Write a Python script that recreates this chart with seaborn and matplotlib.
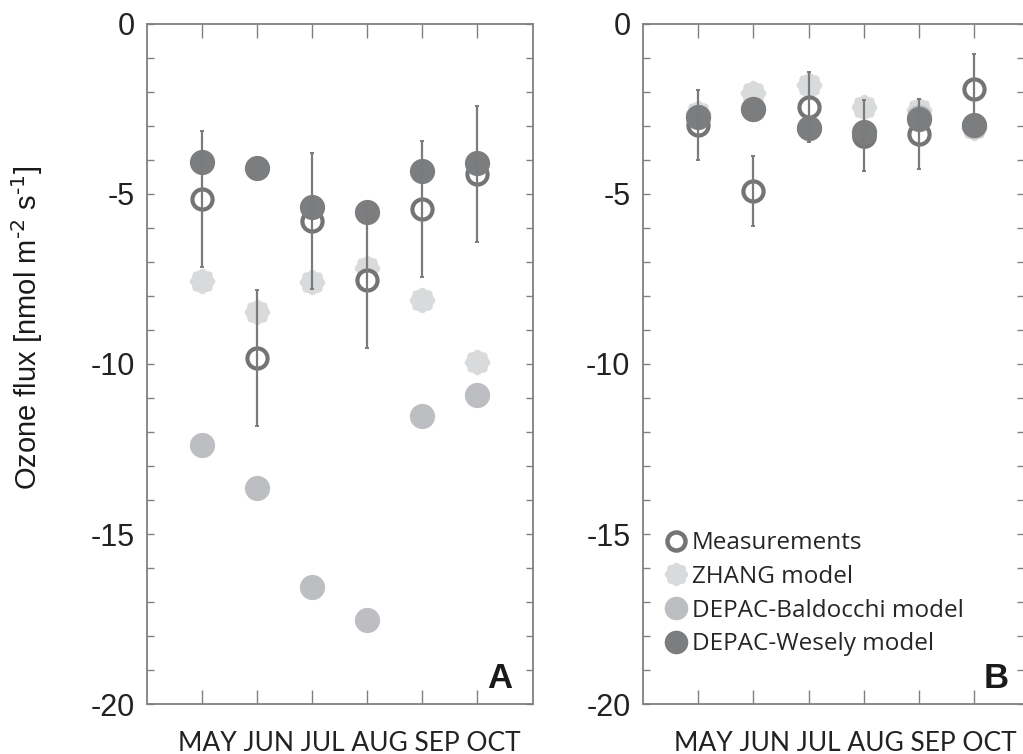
import matplotlib
matplotlib.use('Agg')
import matplotlib.pyplot as plt
from matplotlib.path import Path
from matplotlib.lines import Line2D
import seaborn as sns
import pandas as pd
import numpy as np

sns.set_theme(style="white")
plt.rcParams['font.family'] = ['Liberation Sans', 'DejaVu Sans']
plt.rcParams['mathtext.default'] = 'regular'

# month categories
months = ['MAY', 'JUN', 'JUL', 'AUG', 'SEP', 'OCT']

# Panel A values
meas_a = [-5.15, -9.82, -5.80, -7.53, -5.44, -4.41]
err_a = [2.0, 2.0, 2.0, 2.0, 2.0, 2.0]
zhang_a = [-7.56, -8.47, -7.59, -7.18, -8.12, -9.94]
bald_a = [-12.38, -13.65, -16.56, -17.53, -11.53, -10.91]
wesely_a = [-4.06, -4.24, -5.38, -5.53, -4.32, -4.09]

# Panel B values
meas_b = [-2.97, -4.92, -2.45, -3.28, -3.23, -1.91]
err_b = [1.03, 1.03, 1.03, 1.03, 1.03, 1.03]
zhang_b = [-2.63, -2.02, -1.80, -2.45, -2.53, -3.05]
bald_b = [-2.75, -2.50, -3.05, -3.30, -2.75, -3.00]
wesely_b = [-2.73, -2.50, -3.07, -3.17, -2.78, -2.97]

c_meas = '#727476'
c_zhang = '#d9dadb'
c_bald = '#bdbec1'
c_wes = '#7b7d7f'
c_err = '#7a7b7d'
c_spine = '#808080'
month_font = ['Lato', 'DejaVu Sans']

# scalloped "flower" marker for the ZHANG model
th = np.linspace(0, 2 * np.pi, 241)
r = 1 + 0.06 * np.cos(8 * th)
flower = Path(np.column_stack([r * np.cos(th), r * np.sin(th)]), closed=True)

fig = plt.figure(figsize=(10.23, 7.54), dpi=100)
ax_a = fig.add_axes([0.1437, 0.0663, 0.3773, 0.9019])
ax_b = fig.add_axes([0.6285, 0.0663, 0.3725, 0.9019])


def draw_panel(ax, meas, err, zhang, bald, wes, letter, xmax):
    df = pd.DataFrame({'x': np.arange(len(months)), 'meas': meas, 'err': err,
                       'zhang': zhang, 'bald': bald, 'wes': wes})
    sns.scatterplot(data=df, x='x', y='zhang', ax=ax, marker=flower, s=340,
                    color=c_zhang, linewidth=0, zorder=2)
    sns.scatterplot(data=df, x='x', y='bald', ax=ax, marker='o', s=330,
                    color=c_bald, linewidth=0, zorder=3)
    sns.scatterplot(data=df, x='x', y='meas', ax=ax, marker='o', s=210,
                    facecolor='white', edgecolor=c_meas, linewidth=3.0, zorder=4)
    sns.scatterplot(data=df, x='x', y='wes', ax=ax, marker='o', s=330,
                    color=c_wes, linewidth=0, zorder=5)
    ax.errorbar(df['x'], df['meas'], yerr=df['err'], fmt='none', ecolor=c_err,
                elinewidth=1.6, capsize=1.6, capthick=1.4, zorder=6)

    ax.set_xlim(-1, xmax)
    ax.set_ylim(-20, 0)
    ax.set_xticks(np.arange(len(months)))
    ax.set_xticklabels([])
    ax.set_yticks([0, -5, -10, -15, -20])
    ax.set_yticklabels(['0', '-5', '-10', '-15', '-20'], fontsize=22)
    ax.set_yticks(np.arange(-20, 1, 1), minor=True)
    ax.tick_params(axis='x', which='major', direction='in', length=10, width=1.0,
                   color=c_spine, top=True, bottom=True)
    ax.tick_params(axis='y', which='both', direction='in', length=5, width=1.0,
                   color=c_spine, left=True, right=True, pad=9, labelcolor='#222222')
    for sp in ax.spines.values():
        sp.set_color(c_spine)
        sp.set_linewidth(1.3)
    ax.set_xlabel('')
    ax.set_ylabel('')
    # month names written as one line under the axis, as in the original figure
    ax.annotate(' '.join(months), xy=(0, 0), xycoords='axes fraction',
                xytext=(31, -47), textcoords='offset pixels', ha='left', va='baseline',
                fontsize=19, fontfamily=month_font, color='#222222')
    ax.text(0.946 if letter == 'A' else 0.96, 0.024, letter, transform=ax.transAxes,
            ha='right', va='baseline', fontsize=25, fontweight='bold', color='#1a1a1a')


draw_panel(ax_a, meas_a, err_a, zhang_a, bald_a, wesely_a, 'A', 6.02)
draw_panel(ax_b, meas_b, err_b, zhang_b, bald_b, wesely_b, 'B', 5.9)

ax_a.set_ylabel(r'Ozone flux [nmol m$^{\text{-2}}$ s$^{\text{-1}}$]', fontsize=21,
                color='#1a1a1a')
ax_a.yaxis.set_label_coords(-0.265, 0.553)

handles = [
    Line2D([], [], marker='o', ls='none', markersize=13, markerfacecolor='white',
           markeredgecolor=c_meas, markeredgewidth=3.2),
    Line2D([], [], marker=flower, ls='none', markersize=17, color=c_zhang, markeredgewidth=0),
    Line2D([], [], marker='o', ls='none', markersize=17, color=c_bald, markeredgewidth=0),
    Line2D([], [], marker='o', ls='none', markersize=17, color=c_wes, markeredgewidth=0),
]
labels = ['Measurements', 'ZHANG model', 'DEPAC-Baldocchi model', 'DEPAC-Wesely model']
ax_b.legend(handles, labels, loc='lower left', bbox_to_anchor=(0.055, 0.07),
            frameon=False, prop={'family': ['Open Sans', 'DejaVu Sans'], 'size': 17.5},
            handletextpad=0.15, handlelength=1.0, labelspacing=0.4,
            borderaxespad=0, borderpad=0)

fig.savefig('out.png', dpi=100)
